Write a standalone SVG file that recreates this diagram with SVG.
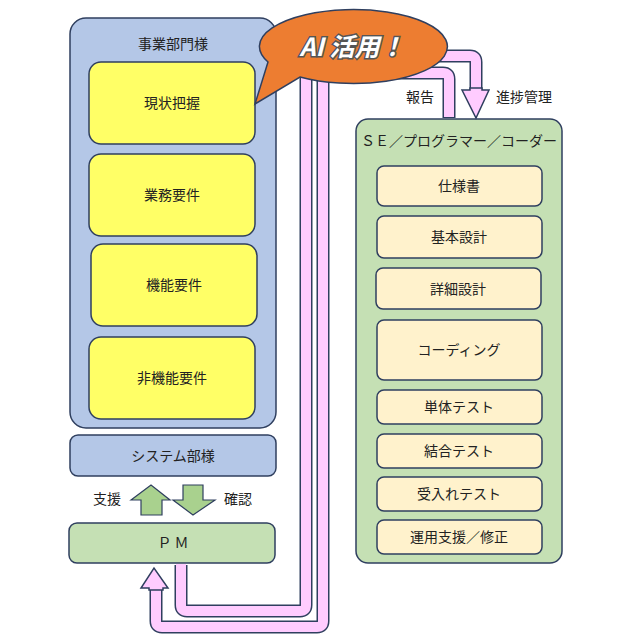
<svg xmlns="http://www.w3.org/2000/svg" width="640" height="640" viewBox="0 0 640 640">
<style>
text{font-family:"Noto Sans CJK JP","Liberation Sans",sans-serif;font-size:14px;fill:#222;text-anchor:middle}
.blue{fill:#b4c7e7;stroke:#2f3f5f;stroke-width:1.5}
.yel{fill:#ffff66;stroke:#2f3f5f;stroke-width:1.5}
.grn{fill:#c5e0b4;stroke:#2f3f5f;stroke-width:1.5}
.cre{fill:#fff2cc;stroke:#2f3f5f;stroke-width:1.5}
.bo{fill:none;stroke:#2f3f5f;stroke-width:13;stroke-linejoin:round}
.bi{fill:none;stroke:#ffccff;stroke-width:10;stroke-linejoin:round}
.ah{fill:#ffccff;stroke:#2f3f5f;stroke-width:1.5}
.ga{fill:#a9d18e;stroke:#2f3f5f;stroke-width:1.2}
</style>
<g id="biz"><rect class="blue" x="70" y="18" width="206" height="410" rx="16"/><text x="173" y="49">事業部門様</text></g>
<g id="n1"><rect class="yel" x="89" y="62" width="166" height="82" rx="12"/><text x="172" y="108">現状把握</text></g>
<g id="n2"><rect class="yel" x="89" y="154" width="166" height="82" rx="12"/><text x="172" y="200">業務要件</text></g>
<g id="n3"><rect class="yel" x="91" y="244" width="166" height="82" rx="12"/><text x="174" y="290">機能要件</text></g>
<g id="n4"><rect class="yel" x="89" y="337" width="166" height="82" rx="12"/><text x="172" y="383">非機能要件</text></g>
<g id="sys"><rect class="blue" x="70" y="435" width="206" height="41" rx="8"/><text x="173" y="461">システム部様</text></g>
<g id="pm"><rect class="grn" x="69" y="523" width="206" height="40" rx="8"/><text x="173" y="548">Ｐ Ｍ</text></g>
<g id="se"><rect class="grn" x="356" y="119" width="206" height="444" rx="12"/><text x="459" y="146">ＳＥ／プログラマー／コーダー</text></g>
<g id="s1"><rect class="cre" x="377" y="166" width="165" height="40" rx="7"/><text x="459" y="191">仕様書</text></g>
<g id="s2"><rect class="cre" x="377" y="216" width="165" height="42" rx="7"/><text x="459" y="242">基本設計</text></g>
<g id="s3"><rect class="cre" x="376" y="268" width="165" height="41" rx="7"/><text x="458" y="294">詳細設計</text></g>
<g id="s4"><rect class="cre" x="377" y="320" width="165" height="60" rx="7"/><text x="459" y="355">コーディング</text></g>
<g id="s5"><rect class="cre" x="377" y="390" width="165" height="34" rx="7"/><text x="459" y="412">単体テスト</text></g>
<g id="s6"><rect class="cre" x="377" y="434" width="165" height="34" rx="7"/><text x="459" y="456">結合テスト</text></g>
<g id="s7"><rect class="cre" x="377" y="477" width="165" height="34" rx="7"/><text x="459" y="499">受入れテスト</text></g>
<g id="s8"><rect class="cre" x="377" y="520" width="165" height="34" rx="7"/><text x="459" y="542">運用支援／修正</text></g>
<g id="connectors">
<path class="bo" d="M181,565 V605 Q181,611 187,611 H300 Q306,611 306,605 V79 Q306,73 312,73 H443 Q449,73 449,79 V118"/>
<path class="bi" d="M181,564 V605 Q181,611 187,611 H300 Q306,611 306,605 V79 Q306,73 312,73 H443 Q449,73 449,79 V117"/>
<path class="bo" d="M476,92 V62 Q476,56 470,56 H329 Q323,56 323,62 V621 Q323,627 317,627 H162 Q156,627 156,621 V587"/>
<path class="bi" d="M476,93 V62 Q476,56 470,56 H329 Q323,56 323,62 V621 Q323,627 317,627 H162 Q156,627 156,621 V586"/>
<polygon class="ah" points="462,90 470,90 470,88 482,88 482,90 489,90 476,118"/>
<polygon class="ah" points="141,588 149,588 149,590 163,590 163,588 168,588 154,568"/>
<polygon class="ga" points="131,500 151,485 170,500 162,500 162,515 141,515 141,500"/>
<polygon class="ga" points="183,485 203,485 203,500 215,500 193,515 173,500 183,500"/>
<text x="420" y="102">報告</text>
<text x="524" y="102">進捗管理</text>
<text x="107" y="504">支援</text>
<text x="238" y="504">確認</text>
</g>
<g id="bubble">
<path d="M268,62 A94,37 0 1 1 300,77 L255,104 Z" fill="#ed7d31" stroke="#2f3f5f" stroke-width="1.5"/>
<text x="352" y="56" style="font-size:25px;font-weight:bold;font-style:italic;fill:#fff;stroke:#555;stroke-width:3;paint-order:stroke">AI 活用！</text>
</g>
</svg>
